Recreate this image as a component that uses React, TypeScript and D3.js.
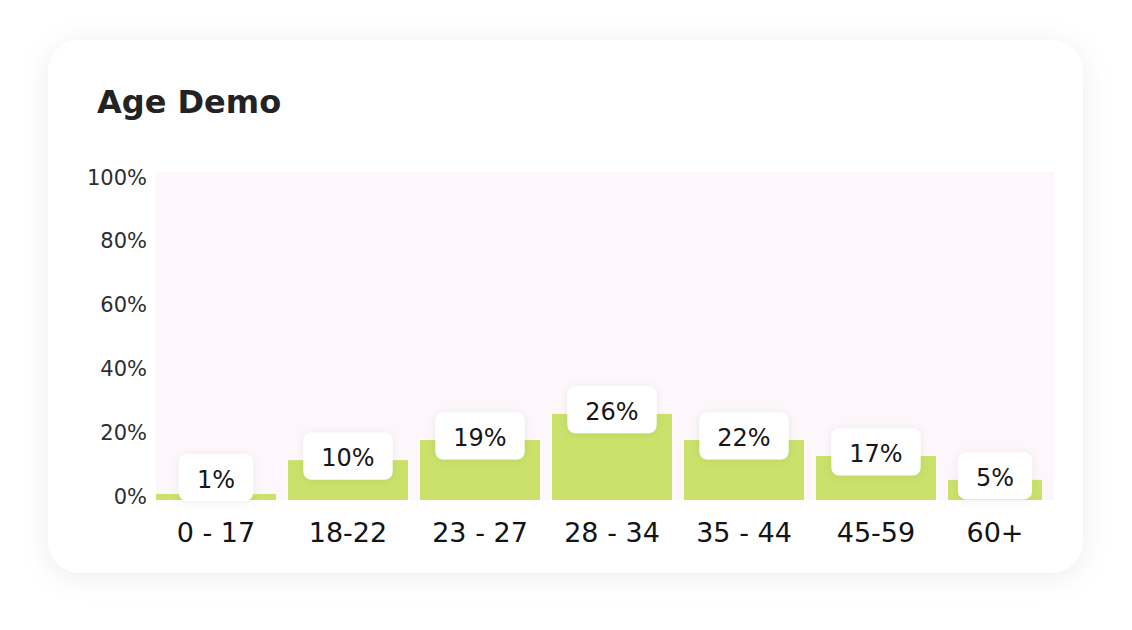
import React from "react";
import * as d3 from "d3";

// categorias y valores
const ageGroups = ["0 - 17", "18-22", "23 - 27", "28 - 34", "35 - 44", "45-59", "60+"];
const barValues = [1.9, 12.5, 18.8, 27, 18.8, 13.8, 6.3];
const labelValues = [1, 10, 19, 26, 22, 17, 5];
const yTicks = [0, 20, 40, 60, 80, 100];

const FONT = "'DejaVu Sans', Verdana, sans-serif";

// ancho aproximado del texto en DejaVu Sans
const textWidth = (s: string, size: number) =>
  s.split("").reduce((w, c) => w + (c === "%" ? 0.95 : 0.636), 0) * size;

export default function App() {
  const width = 1132;
  const height = 630;
  const card = { x: 48, y: 40, w: 1035, h: 533, r: 32 };
  const plot = { left: 156, right: 1054, top: 172, bottom: 500 };
  const gap = 12;

  const x = d3
    .scaleBand<string>()
    .domain(ageGroups)
    .range([plot.left, plot.left + 7 * 132 - gap])
    .paddingInner(gap / 132)
    .paddingOuter(0);

  const y = d3.scaleLinear().domain([0, 100]).range([plot.bottom, 181]);

  const boxH = 47;
  const labelSize = 24;

  return (
    <svg
      width={width}
      height={height}
      style={{ position: "absolute", left: 0, top: 0, background: "#fff" }}
    >
      <defs>
        <filter id="cardShadow" x="-10%" y="-10%" width="120%" height="130%">
          <feDropShadow dx="0" dy="4" stdDeviation="14" floodColor="#000" floodOpacity="0.07" />
        </filter>
        <filter id="boxShadow" x="-30%" y="-30%" width="160%" height="160%">
          <feDropShadow dx="0" dy="1" stdDeviation="4" floodColor="#000" floodOpacity="0.07" />
        </filter>
      </defs>

      {/* Tarjeta */}
      <rect
        x={card.x}
        y={card.y}
        width={card.w}
        height={card.h}
        rx={card.r}
        fill="#fff"
        filter="url(#cardShadow)"
      />

      {/* Titulo */}
      <text x={97} y={113} fontFamily={FONT} fontWeight={700} fontSize={32} fill="#232323">
        Age Demo
      </text>

      {/* Fondo del area */}
      <rect
        x={plot.left}
        y={plot.top}
        width={plot.right - plot.left}
        height={plot.bottom - plot.top}
        fill="#fdf7fb"
      />

      {/* Eje Y */}
      <g>
        {yTicks.map((t) => (
          <text
            key={t}
            x={147}
            y={y(t) + 3.6}
            textAnchor="end"
            fontFamily={FONT}
            fontSize={21}
            fill="#2e2e2e"
          >
            {t}%
          </text>
        ))}
      </g>

      {/* Barras */}
      <g>
        {ageGroups.map((g, i) => {
          const bx = x(g) ?? 0;
          const bw = Math.min(x.bandwidth(), plot.right - gap - bx);
          return (
            <rect
              key={g}
              x={bx}
              y={y(barValues[i])}
              width={bw}
              height={y(0) - y(barValues[i])}
              fill="#cae26a"
            />
          );
        })}
      </g>

      {/* Etiquetas de valor */}
      <g>
        {ageGroups.map((g, i) => {
          const bx = x(g) ?? 0;
          const bw = Math.min(x.bandwidth(), plot.right - gap - bx);
          const cx = bx + bw / 2;
          const cy = Math.min(y(barValues[i]) - 4, y(0) + 1 - boxH / 2);
          const label = `${labelValues[i]}%`;
          const w = textWidth(label, labelSize) + 36;
          return (
            <g key={g}>
              <rect
                x={cx - w / 2}
                y={cy - boxH / 2}
                width={w}
                height={boxH}
                rx={8}
                fill="#fff"
                filter="url(#boxShadow)"
              />
              <text
                x={cx}
                y={cy + 10}
                textAnchor="middle"
                fontFamily={FONT}
                fontSize={labelSize}
                fill="#161616"
              >
                {label}
              </text>
            </g>
          );
        })}
      </g>

      {/* Eje X */}
      <g>
        {ageGroups.map((g) => {
          const bx = x(g) ?? 0;
          const bw = Math.min(x.bandwidth(), plot.right - gap - bx);
          return (
            <text
              key={g}
              x={bx + bw / 2}
              y={y(0) + 42}
              textAnchor="middle"
              fontFamily={FONT}
              fontSize={27}
              fill="#141414"
            >
              {g}
            </text>
          );
        })}
      </g>
    </svg>
  );
}
